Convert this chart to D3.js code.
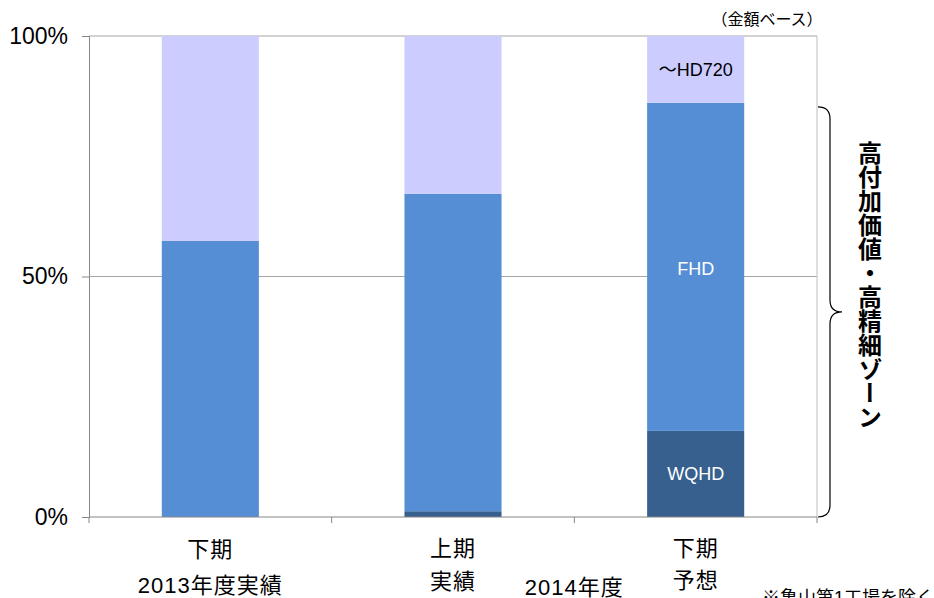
<!DOCTYPE html>
<html>
<head>
<meta charset="utf-8">
<script src="https://cdn.jsdelivr.net/npm/d3@7"></script>
<style>
  body { margin: 0; background: #fff; }
  text { font-family: "Liberation Sans", Arial, "Noto Sans CJK JP", sans-serif; }
</style>
</head>
<body>
<div id="chart"></div>
<script>
// chart data
const categories = ["2013下期", "2014上期", "2014下期"];
const wqhd = [0, 1.2, 17.9];
const fhd = [57.4, 66.0, 68.2];
const hd720 = [42.6, 32.8, 13.9];
const seriesNames = ["WQHD", "FHD", "HD720"];
const yTicks = [0, 50, 100];

const WIDTH = 934;
const HEIGHT = 598;
const M = { left: 89, right: 817, top: 36, bottom: 517 };
const COLORS = { WQHD: "#37608f", FHD: "#558ed5", HD720: "#ccccff" };

const svg = d3.select("#chart").append("svg")
  .attr("width", WIDTH).attr("height", HEIGHT);

const x = d3.scaleBand().domain(categories).range([M.left, M.right]).paddingInner(0.6).paddingOuter(0.3);
const xBand = d3.scaleBand().domain(categories).range([M.left, M.right]);
const y = d3.scaleLinear().domain([0, 100]).range([M.bottom, M.top]);

// gridlines
svg.append("g").selectAll("line").data(yTicks.filter(d => d > 0)).enter().append("line")
  .attr("x1", M.left).attr("x2", M.right)
  .attr("y1", d => y(d)).attr("y2", d => y(d))
  .attr("stroke", "#a6a6a6").attr("stroke-width", 1);

// stacked bars
const rows = categories.map((c, i) => ({ cat: c, WQHD: wqhd[i], FHD: fhd[i], HD720: hd720[i] }));
const stack = d3.stack().keys(seriesNames)(rows);
svg.append("g").selectAll("g").data(stack).enter().append("g")
  .attr("fill", d => COLORS[d.key])
  .selectAll("rect").data(d => d).enter().append("rect")
  .attr("x", d => x(d.data.cat))
  .attr("width", x.bandwidth())
  .attr("y", d => y(Math.min(100, d[1])))
  .attr("height", d => y(d[0]) - y(Math.min(100, d[1])));

// segment labels on last bar
const last = categories[2];
const cx = x(last) + x.bandwidth() / 2;
svg.append("text").attr("x", cx).attr("y", y(100 - hd720[2] / 2) + 7)
  .attr("text-anchor", "middle").attr("font-size", 18).attr("fill", "#000").text("～HD720");
svg.append("text").attr("x", cx).attr("y", y(wqhd[2] + fhd[2] / 2) + 8)
  .attr("text-anchor", "middle").attr("font-size", 18).attr("fill", "#fff").text("FHD");
svg.append("text").attr("x", cx).attr("y", y(wqhd[2] / 2) + 6)
  .attr("text-anchor", "middle").attr("font-size", 18).attr("fill", "#fff").text("WQHD");

// y axis
const yAxis = svg.append("g").attr("transform", `translate(${M.left},0)`)
  .call(d3.axisLeft(y).tickValues(yTicks).tickFormat(d => d + "%").tickSize(7).tickPadding(14));
yAxis.select(".domain").attr("stroke", "#868686");
yAxis.selectAll(".tick line").attr("stroke", "#868686");
yAxis.selectAll("text").attr("font-size", 23).attr("fill", "#000")
  .attr("font-family", "Liberation Sans, Arial, sans-serif");

// x axis with boundary ticks
svg.append("line").attr("x1", M.left).attr("x2", M.right)
  .attr("y1", M.bottom).attr("y2", M.bottom).attr("stroke", "#868686");
const bounds = categories.map(c => xBand(c)).concat([M.right]);
svg.append("g").selectAll("line").data(bounds).enter().append("line")
  .attr("x1", d => d).attr("x2", d => d)
  .attr("y1", M.bottom).attr("y2", M.bottom + 6).attr("stroke", "#868686");
// right border
svg.append("line").attr("x1", M.right).attr("x2", M.right)
  .attr("y1", M.top).attr("y2", M.bottom).attr("stroke", "#bfbfbf");

// category labels
const lbl = (t, px, py, anchor) => svg.append("text").attr("x", px).attr("y", py)
  .attr("text-anchor", anchor || "middle").attr("font-size", 22).attr("fill", "#000")
  .style("letter-spacing", "1px")
  .attr("font-family", "Liberation Sans, 'Noto Sans CJK JP', sans-serif").text(t);
const c0 = x(categories[0]) + x.bandwidth() / 2;
const c1 = x(categories[1]) + x.bandwidth() / 2;
lbl("下期", c0, 557);
lbl("2013年度実績", c0, 593);
lbl("上期", c1, 556);
lbl("実績", c1, 589);
lbl("2014年度", xBand(categories[2]), 595);
lbl("下期", cx, 556);
lbl("予想", cx, 588);
svg.append("text").attr("x", 762).attr("y", 604).attr("font-size", 18)
  .attr("font-family", "'Noto Sans CJK JP', sans-serif").text("※亀山第1工場を除く");

// note top right
svg.append("text").attr("x", 767).attr("y", 25).attr("text-anchor", "middle")
  .attr("font-size", 16).attr("font-family", "'Noto Sans CJK JP', sans-serif").text("（金額ベース）");

// curly brace
const bTop = y(fhd[2] + wqhd[2]) + 4, bBot = M.bottom, bMid = (bTop + bBot) / 2;
const bx0 = M.right + 1, bx1 = bx0 + 12, bx2 = bx0 + 24;
svg.append("path")
  .attr("d", `M${bx0},${bTop} Q${bx1},${bTop} ${bx1},${bTop + 12} L${bx1},${bMid - 12} Q${bx1},${bMid} ${bx2},${bMid} Q${bx1},${bMid} ${bx1},${bMid + 12} L${bx1},${bBot - 12} Q${bx1},${bBot} ${bx0},${bBot}`)
  .attr("fill", "none").attr("stroke", "#000").attr("stroke-width", 1.2);

// vertical zone label
svg.append("text").attr("x", 868).attr("y", 141)
  .attr("font-size", 24).attr("font-weight", "bold")
  .attr("font-family", "'Noto Sans CJK JP', sans-serif")
  .style("writing-mode", "vertical-rl")
  .text("高付加価値・高精細ゾーン");
</script>
</body>
</html>
